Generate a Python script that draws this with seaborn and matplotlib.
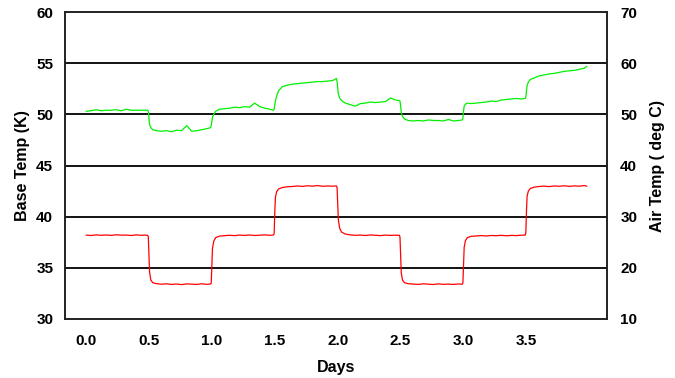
import matplotlib
matplotlib.use("Agg")
import matplotlib.pyplot as plt
import seaborn as sns
import pandas as pd

# time axis (days) shared by both traces
days = [
    0.00, 0.04, 0.08, 0.12, 0.16, 0.20, 0.24, 0.28, 0.32, 0.36, 0.40, 0.44, 0.47, 0.49,
    0.495, 0.50, 0.505, 0.515, 0.53, 0.56, 0.60, 0.64, 0.68, 0.72, 0.76, 0.80, 0.84, 0.88, 0.92, 0.96, 0.99,
    0.995, 1.00, 1.005, 1.015, 1.03, 1.06, 1.10, 1.14, 1.18, 1.22, 1.26, 1.30, 1.34, 1.38, 1.42, 1.46, 1.49,
    1.495, 1.50, 1.505, 1.515, 1.53, 1.56, 1.60, 1.64, 1.68, 1.72, 1.76, 1.80, 1.84, 1.88, 1.92, 1.96, 1.99,
    1.995, 2.00, 2.005, 2.015, 2.03, 2.06, 2.10, 2.14, 2.18, 2.22, 2.26, 2.30, 2.34, 2.38, 2.42, 2.46, 2.49,
    2.495, 2.50, 2.505, 2.515, 2.53, 2.56, 2.60, 2.64, 2.68, 2.72, 2.76, 2.80, 2.84, 2.88, 2.92, 2.96, 2.99,
    2.995, 3.00, 3.005, 3.015, 3.03, 3.06, 3.10, 3.14, 3.18, 3.22, 3.26, 3.30, 3.34, 3.38, 3.42, 3.46, 3.49,
    3.495, 3.50, 3.505, 3.515, 3.53, 3.56, 3.60, 3.64, 3.68, 3.72, 3.76, 3.80, 3.84, 3.88, 3.92, 3.96, 3.98,
]

# base temperature (K), left axis
base_temp = [
    38.20, 38.16, 38.22, 38.18, 38.21, 38.17, 38.23, 38.19, 38.20, 38.16, 38.22, 38.18, 38.20, 38.17,
    38.05, 36.40, 34.60, 33.80, 33.55, 33.45, 33.40, 33.44, 33.38, 33.42, 33.36, 33.43, 33.40, 33.38, 33.44, 33.39, 33.42,
    33.50, 35.20, 36.90, 37.60, 37.95, 38.10, 38.14, 38.18, 38.15, 38.20, 38.17, 38.21, 38.16, 38.19, 38.22, 38.18, 38.20,
    38.35, 40.40, 41.90, 42.45, 42.70, 42.85, 42.92, 42.95, 43.00, 42.96, 43.02, 42.98, 43.04, 42.97, 43.00, 42.98, 43.00,
    42.85, 41.20, 39.70, 38.90, 38.50, 38.30, 38.22, 38.18, 38.20, 38.16, 38.21, 38.18, 38.15, 38.20, 38.17, 38.19, 38.18,
    38.00, 36.30, 34.50, 33.80, 33.55, 33.45, 33.42, 33.38, 33.44, 33.40, 33.37, 33.43, 33.39, 33.41, 33.38, 33.42, 33.40,
    33.55, 35.40, 37.00, 37.65, 37.95, 38.08, 38.12, 38.15, 38.11, 38.16, 38.14, 38.18, 38.13, 38.17, 38.15, 38.19, 38.20,
    38.40, 40.50, 42.00, 42.50, 42.75, 42.88, 42.95, 42.98, 42.94, 43.00, 42.97, 43.02, 42.96, 43.01, 42.98, 43.04, 42.98,
]

# air temperature (deg C), right axis
air_temp = [
    50.6, 50.7, 50.9, 50.7, 50.8, 50.8, 50.9, 50.7, 51.0, 50.8, 50.8, 50.8, 50.8, 50.8,
    50.6, 49.2, 48.0, 47.4, 47.0, 46.8, 46.7, 46.8, 46.6, 46.9, 46.8, 47.8, 46.7, 46.8, 47.0, 47.2, 47.4,
    47.8, 48.6, 49.4, 50.0, 50.6, 51.0, 51.1, 51.2, 51.4, 51.3, 51.5, 51.4, 52.2, 51.5, 51.2, 51.0, 50.8,
    51.0, 51.8, 52.6, 53.6, 54.6, 55.4, 55.7, 55.9, 56.0, 56.1, 56.2, 56.3, 56.4, 56.4, 56.5, 56.6, 57.0,
    56.4, 55.2, 54.0, 53.2, 52.7, 52.2, 51.9, 51.6, 52.1, 52.2, 52.4, 52.3, 52.4, 52.5, 53.2, 52.8, 52.7,
    52.6, 51.6, 50.4, 49.6, 49.1, 48.8, 48.7, 48.8, 48.7, 48.9, 48.8, 48.8, 48.7, 49.0, 48.7, 48.8, 48.9,
    49.2, 50.6, 51.6, 52.0, 52.2, 52.1, 52.2, 52.3, 52.4, 52.6, 52.5, 52.8, 52.9, 53.0, 53.1, 53.0, 53.1,
    53.4, 54.6, 55.6, 56.3, 56.8, 57.1, 57.5, 57.7, 57.9, 58.0, 58.2, 58.4, 58.5, 58.6, 58.8, 59.0, 59.4,
]

x_ticks = [0.0, 0.5, 1.0, 1.5, 2.0, 2.5, 3.0, 3.5]
x_labels = ["0.0", "0.5", "1.0", "1.5", "2.0", "2.5", "3.0", "3.5"]
left_ticks = [30, 35, 40, 45, 50, 55, 60]
right_ticks = [10, 20, 30, 40, 50, 60, 70]

df = pd.DataFrame({"Days": days, "Base": base_temp, "Air": air_temp})

sns.set_style("white")
plt.rcParams["font.family"] = ["Liberation Sans", "DejaVu Sans"]
plt.rcParams["font.weight"] = "bold"
plt.rcParams["axes.labelweight"] = "bold"
plt.rcParams["text.color"] = "black"
plt.rcParams["axes.labelcolor"] = "black"
plt.rcParams["xtick.color"] = "black"
plt.rcParams["ytick.color"] = "black"

fig = plt.figure(figsize=(6.75, 3.78), dpi=100)
ax = fig.add_axes([65 / 675, 1 - 319 / 378, (607 - 65) / 675, (319 - 12) / 378])
ax2 = ax.twinx()

# gridlines on the left scale
for v in left_ticks[1:-1]:
    ax.axhline(v, color="black", lw=1.3, zorder=1)

sns.lineplot(data=df, x="Days", y="Base", ax=ax, color="#ff0000", lw=0.9,
             estimator=None, sort=False, zorder=3)
sns.lineplot(data=df, x="Days", y="Air", ax=ax2, color="#00f000", lw=0.9,
             estimator=None, sort=False, zorder=3)

ax.set_xlim(-0.167, 4.14)
ax.set_ylim(30, 60)
ax2.set_ylim(10, 70)

ax.set_xticks(x_ticks)
ax.set_xticklabels(x_labels)
ax.set_yticks(left_ticks)
ax2.set_yticks(right_ticks)

ax.tick_params(axis="x", length=0, pad=10.5, labelsize=11)
ax.tick_params(axis="y", length=0, pad=8.5, labelsize=11)
ax2.tick_params(axis="y", length=0, pad=9.5, labelsize=11)

ax.set_xlabel("Days", fontsize=11.5, fontweight="bold", labelpad=9)
ax.set_ylabel("Base Temp (K)", fontsize=11.5, fontweight="bold", labelpad=4.5)
ax2.set_ylabel("Air Temp ( deg C)", fontsize=11.5, fontweight="bold", labelpad=9)

for a in (ax, ax2):
    for s in a.spines.values():
        s.set_color("#222222")
        s.set_linewidth(1.2)

fig.savefig("out.png", dpi=100)
